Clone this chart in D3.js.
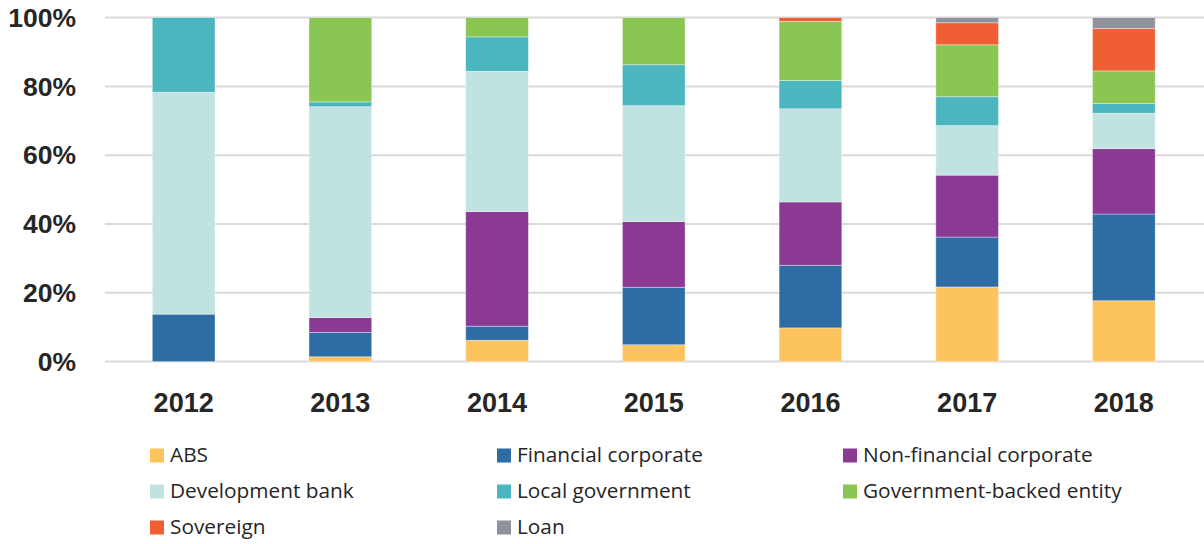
<!DOCTYPE html>
<html>
<head>
<meta charset="utf-8">
<script src="https://cdn.jsdelivr.net/npm/d3@7"></script>
<style>
  html, body { margin: 0; padding: 0; background: #ffffff; }
  svg { display: block; }
</style>
</head>
<body>
<svg id="chart" width="1204" height="544"></svg>
<script>
// ---- Data (percent share) ----
const years = ["2012", "2013", "2014", "2015", "2016", "2017", "2018"];
const seriesNames = ["ABS", "Financial corporate", "Non-financial corporate", "Development bank",
                     "Local government", "Government-backed entity", "Sovereign", "Loan"];
const abs          = [0,    1.4,  6.2,  4.9,  9.8, 21.7, 17.7];
const financial    = [13.8, 7.1,  4.1, 16.7, 18.2, 14.5, 25.2];
const nonFinancial = [0,    4.3, 33.3, 19.1, 18.4, 18.0, 19.0];
const devBank      = [64.5, 61.3, 40.8, 33.7, 27.1, 14.4, 10.3];
const localGov     = [21.7, 1.4, 10.0, 11.9,  8.2,  8.4,  2.8];
const govBacked    = [0,   24.5,  5.6, 13.7, 17.2, 15.1,  9.5];
const sovereign    = [0,    0,    0,    0,    1.1,  6.4, 12.3];
const loan         = [0,    0,    0,    0,    0,    1.5,  3.2];
const yTicks = [0, 20, 40, 60, 80, 100];
const colors = ["#FDC35E", "#2E6DA4", "#8B3A93", "#C0E3E1", "#4BB5C0", "#8BC653", "#F05F33", "#8F919C"];

const seriesValues = [abs, financial, nonFinancial, devBank, localGov, govBacked, sovereign, loan];
const keys = seriesNames;
const table = years.map((y, i) => {
  const row = { year: y };
  keys.forEach((k, j) => row[k] = seriesValues[j][i]);
  return row;
});

const svg = d3.select("#chart");
const x = d3.scaleBand().domain(years).range([105.3, 1202.2]).paddingInner(0.6).paddingOuter(0.3);
const y = d3.scaleLinear().domain([0, 100]).range([361.6, 17.6]);

// gridlines
svg.append("g").selectAll("line").data(yTicks).join("line")
  .attr("x1", 105).attr("x2", 1204)
  .attr("y1", d => y(d)).attr("y2", d => y(d))
  .attr("stroke", "#D9D9D9").attr("stroke-width", 2);

// y labels
svg.append("g").selectAll("text").data(yTicks).join("text")
  .attr("x", 76).attr("y", d => y(d) + 9.2)
  .attr("text-anchor", "end")
  .attr("font-family", "'Liberation Sans', Arial, sans-serif")
  .attr("font-weight", "bold").attr("font-size", 26.5)
  .attr("fill", "#262626")
  .text(d => d + "%");

// stacked bars
const stacked = d3.stack().keys(keys)(table);
svg.append("g").selectAll("g").data(stacked).join("g")
  .attr("fill", (d, i) => colors[i])
  .selectAll("rect").data(d => d).join("rect")
  .attr("x", d => x(d.data.year))
  .attr("width", x.bandwidth())
  .attr("y", d => y(d[1]))
  .attr("height", d => Math.max(0, y(d[0]) - y(d[1])))
  .attr("stroke", "#ffffff").attr("stroke-opacity", 0.45).attr("stroke-width", 0.8);

// x labels
svg.append("g").selectAll("text").data(years).join("text")
  .attr("x", d => x(d) + x.bandwidth() / 2).attr("y", 411.5)
  .attr("text-anchor", "middle")
  .attr("font-family", "'Liberation Sans', Arial, sans-serif")
  .attr("font-weight", "bold").attr("font-size", 27)
  .attr("fill", "#262626")
  .text(d => d);

// legend
const colX = [150, 497, 843];
const rowY = [462, 498, 534];
const lg = svg.append("g").selectAll("g").data(seriesNames).join("g")
  .attr("transform", (d, i) => `translate(${colX[i % 3]},${rowY[Math.floor(i / 3)]})`);
lg.append("rect").attr("x", 0).attr("y", -13.5).attr("width", 14).attr("height", 14)
  .attr("fill", (d, i) => colors[i]);
lg.append("text").attr("x", 20).attr("y", 0)
  .attr("font-family", "'Open Sans', sans-serif").attr("font-size", 20.8)
  .attr("fill", "#262626")
  .text(d => d);
</script>
</body>
</html>
